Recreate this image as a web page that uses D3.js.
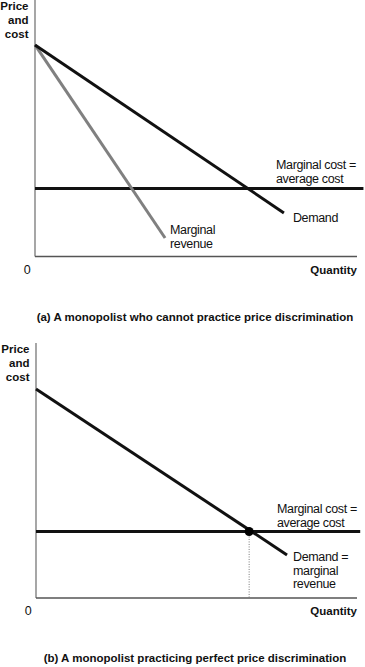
<!DOCTYPE html>
<html><head><meta charset="utf-8">
<script src="https://cdn.jsdelivr.net/npm/d3@7"></script>
<style>
html,body{margin:0;padding:0;background:#fff;}
svg{display:block;}
text{font-family:"Liberation Sans",Arial,Helvetica,sans-serif;fill:#111;}
.lab{font-size:12.5px;letter-spacing:-0.35px;}
.bold{font-size:11.5px;font-weight:bold;}
</style></head>
<body>
<script>
// Panel (a): monopolist without price discrimination (data units 0..10)
const demandA = [[0, 8.25], [7.73, 1.70]];
const mrA = [[0, 8.25], [4.04, 0.72]];
const mcA = [[0, 2.65], [10.2, 2.65]];
// Panel (b): perfect price discrimination
const demandB = [[0, 8.2], [7.82, 1.69]];
const mcB = [[0, 2.61], [10.1, 2.61]];
const eqB = [6.64, 2.61];
const titles = ["(a) A monopolist who cannot practice price discrimination",
                "(b) A monopolist practicing perfect price discrimination"];
const yAxisLabel = ["Price", "and", "cost"];
const xAxisLabel = "Quantity";

const W = 365, H = 667;
const svg = d3.select("body").append("svg").attr("width", W).attr("height", H);

function panel(cfg) {
  const x = d3.scaleLinear().domain([0, 10]).range([cfg.x0, 357]);
  const y = d3.scaleLinear().domain([0, 10]).range([cfg.yBase, cfg.yTop]);
  const g = svg.append("g");
  const line = d3.line().x(d => x(d[0])).y(d => y(d[1]));
  g.append("line").attr("x1", x(0)).attr("x2", x(0)).attr("y1", cfg.axisTop).attr("y2", y(0))
    .attr("stroke", "#777").attr("stroke-width", 1.3);
  g.append("line").attr("x1", x(0)).attr("x2", x(10)).attr("y1", y(0)).attr("y2", y(0))
    .attr("stroke", "#555").attr("stroke-width", 1.3);
  yAxisLabel.forEach((t, i) => g.append("text").attr("class", "bold").attr("text-anchor", "end")
    .attr("x", cfg.x0 - 6.5).attr("y", cfg.ylabY + i * 14).text(t));
  g.append("text").attr("class", "lab").attr("text-anchor", "middle")
    .attr("x", cfg.x0 - 8).attr("y", y(0) + 17).text("0");
  g.append("text").attr("class", "bold").attr("text-anchor", "end")
    .attr("x", 357).attr("y", y(0) + 17).text(xAxisLabel);
  g.append("text").attr("class", "bold").attr("text-anchor", "middle")
    .attr("x", 195).attr("y", cfg.titleY).text(cfg.title);
  return {g, x, y, line};
}

{
  const p = panel({x0: 35, yBase: 256.5, yTop: 0, axisTop: 0, ylabY: 10, titleY: 321, title: titles[0]});
  p.g.append("path").attr("d", p.line(mcA)).attr("stroke", "#111").attr("stroke-width", 3).attr("fill", "none");
  p.g.append("path").attr("d", p.line(mrA)).attr("stroke", "#808080").attr("stroke-width", 3).attr("fill", "none");
  p.g.append("path").attr("d", p.line(demandA)).attr("stroke", "#111").attr("stroke-width", 3).attr("fill", "none");
  const t1 = p.g.append("text").attr("class", "lab").attr("x", 276).attr("y", 169);
  t1.append("tspan").attr("x", 276).text("Marginal cost =");
  t1.append("tspan").attr("x", 276).attr("dy", 13.5).text("average cost");
  p.g.append("text").attr("class", "lab").attr("x", p.x(demandA[1][0]) + 9).attr("y", p.y(demandA[1][1]) + 9).text("Demand");
  const t2 = p.g.append("text").attr("class", "lab").attr("x", 170).attr("y", 234);
  t2.append("tspan").attr("x", 170).text("Marginal");
  t2.append("tspan").attr("x", 170).attr("dy", 13.5).text("revenue");
}
{
  const p = panel({x0: 36, yBase: 598, yTop: 343, axisTop: 343, ylabY: 353, titleY: 662, title: titles[1]});
  p.g.append("line").attr("x1", p.x(eqB[0])).attr("x2", p.x(eqB[0])).attr("y1", p.y(eqB[1])).attr("y2", p.y(0))
    .attr("stroke", "#777").attr("stroke-width", 1).attr("stroke-dasharray", "1,1.5");
  p.g.append("path").attr("d", p.line(mcB)).attr("stroke", "#111").attr("stroke-width", 3).attr("fill", "none");
  p.g.append("path").attr("d", p.line(demandB)).attr("stroke", "#111").attr("stroke-width", 3).attr("fill", "none");
  p.g.append("circle").attr("cx", p.x(eqB[0])).attr("cy", p.y(eqB[1])).attr("r", 4.5).attr("fill", "#000");
  const t1 = p.g.append("text").attr("class", "lab").attr("x", 277).attr("y", 513);
  t1.append("tspan").attr("x", 277).text("Marginal cost =");
  t1.append("tspan").attr("x", 277).attr("dy", 13.5).text("average cost");
  const t2 = p.g.append("text").attr("class", "lab").attr("x", 293).attr("y", 561);
  t2.append("tspan").attr("x", 293).text("Demand =");
  t2.append("tspan").attr("x", 293).attr("dy", 13.5).text("marginal");
  t2.append("tspan").attr("x", 293).attr("dy", 13.5).text("revenue");
}
</script>
</body></html>
